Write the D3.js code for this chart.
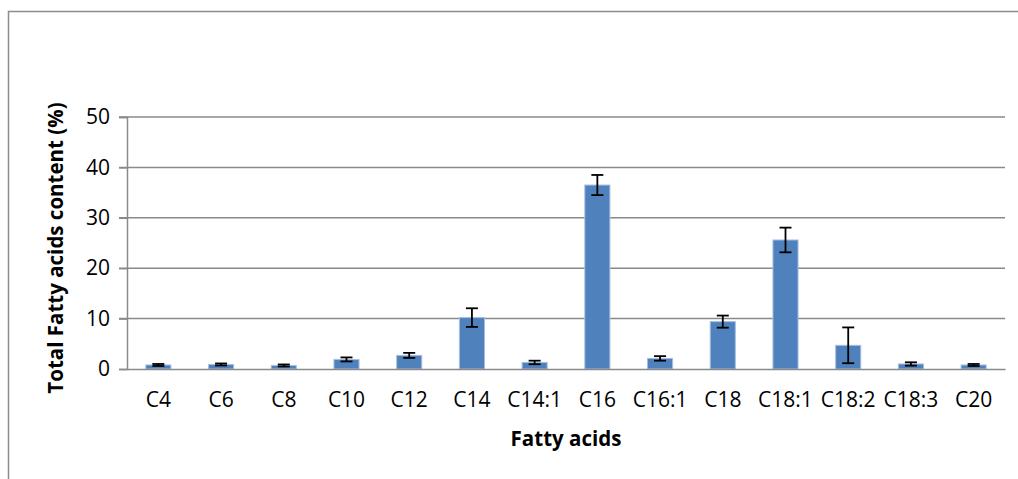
<!DOCTYPE html>
<html>
<head>
<meta charset="utf-8">
<script src="https://cdn.jsdelivr.net/npm/d3@7"></script>
<style>
  html, body { margin: 0; padding: 0; background: #fff; }
  svg { display: block; }
  text { font-family: "Open Sans", "Liberation Sans", sans-serif; fill: #000; }
</style>
</head>
<body>
<svg id="chart" width="1018" height="479"></svg>
<script>
const categories = ["C4","C6","C8","C10","C12","C14","C14:1","C16","C16:1","C18","C18:1","C18:2","C18:3","C20"];
const values = [0.8, 0.9, 0.7, 1.9, 2.7, 10.2, 1.3, 36.5, 2.1, 9.4, 25.6, 4.7, 1.0, 0.8];
const errors = [0.2, 0.2, 0.2, 0.4, 0.5, 1.85, 0.35, 2.0, 0.45, 1.2, 2.45, 3.55, 0.33, 0.2];
const yTicks = [0, 10, 20, 30, 40, 50];

(function () {
const svg = d3.select("#chart");
const W = 1018, H = 479;
const pL = 127, pR = 1005, pT = 117, pB = 369;

// outer frame (clipped by page edges at right/bottom)
svg.append("rect")
  .attr("x", 8.5).attr("y", 11.5)
  .attr("width", W + 10).attr("height", H + 10)
  .attr("fill", "none").attr("stroke", "#8c8c8c").attr("stroke-width", 1.5);

const x = d3.scaleBand().domain(categories).range([pL, pR]).paddingInner(0.6).paddingOuter(0.3);
const y = d3.scaleLinear().domain([0, 50]).range([pB, pT]);

// gridlines
svg.append("g")
  .selectAll("line").data(yTicks.filter(d => d > 0)).join("line")
  .attr("x1", pL - 8).attr("x2", pR)
  .attr("y1", d => y(d)).attr("y2", d => y(d))
  .attr("stroke", "#8a8a8a").attr("stroke-width", 1.5);

// y axis
const yAxis = svg.append("g").attr("transform", `translate(${pL},0)`)
  .call(d3.axisLeft(y).tickValues(yTicks).tickSize(8).tickPadding(9));
yAxis.select(".domain").attr("stroke", "#8a8a8a").attr("stroke-width", 1.5);
yAxis.selectAll(".tick line").attr("stroke", "#8a8a8a").attr("stroke-width", 1.5);
yAxis.selectAll(".tick text").attr("font-size", 21).attr("font-family", "'Open Sans', sans-serif").attr("fill", "#000");

// bars
svg.append("g").selectAll("rect").data(categories).join("rect")
  .attr("x", d => x(d))
  .attr("y", (d, i) => y(values[i]))
  .attr("width", x.bandwidth())
  .attr("height", (d, i) => y(0) - y(values[i]))
  .attr("fill", "#4F81BD")
  .attr("stroke", "#A7BFDE").attr("stroke-width", 1);

// x axis
const xAxis = svg.append("g").attr("transform", `translate(0,${pB})`)
  .call(d3.axisBottom(x).tickSize(0).tickPadding(23));
xAxis.select(".domain").attr("stroke", "#8a8a8a").attr("stroke-width", 1.5);
xAxis.selectAll(".tick text").attr("font-size", 21).attr("font-family", "'Open Sans', sans-serif").attr("fill", "#000");

// error bars
const eg = svg.append("g").attr("stroke", "#000").attr("stroke-width", 1.8);
categories.forEach((c, i) => {
  const cx = x(c) + x.bandwidth() / 2;
  const y1 = y(values[i] + errors[i]), y2 = y(values[i] - errors[i]);
  eg.append("line").attr("x1", cx).attr("x2", cx).attr("y1", y1).attr("y2", y2);
  eg.append("line").attr("x1", cx - 6).attr("x2", cx + 6).attr("y1", y1).attr("y2", y1);
  eg.append("line").attr("x1", cx - 6).attr("x2", cx + 6).attr("y1", y2).attr("y2", y2);
});

// axis titles
svg.append("text")
  .attr("x", (pL + pR) / 2).attr("y", 446)
  .attr("text-anchor", "middle")
  .attr("font-size", 20.5).attr("font-weight", "bold")
  .text("Fatty acids");

svg.append("text")
  .attr("transform", `translate(63,${(pT + pB) / 2 + 5}) rotate(-90)`)
  .attr("text-anchor", "middle")
  .attr("font-size", 20.5).attr("font-weight", "bold")
  .text("Total Fatty acids content (%)");
})();
</script>
</body>
</html>
